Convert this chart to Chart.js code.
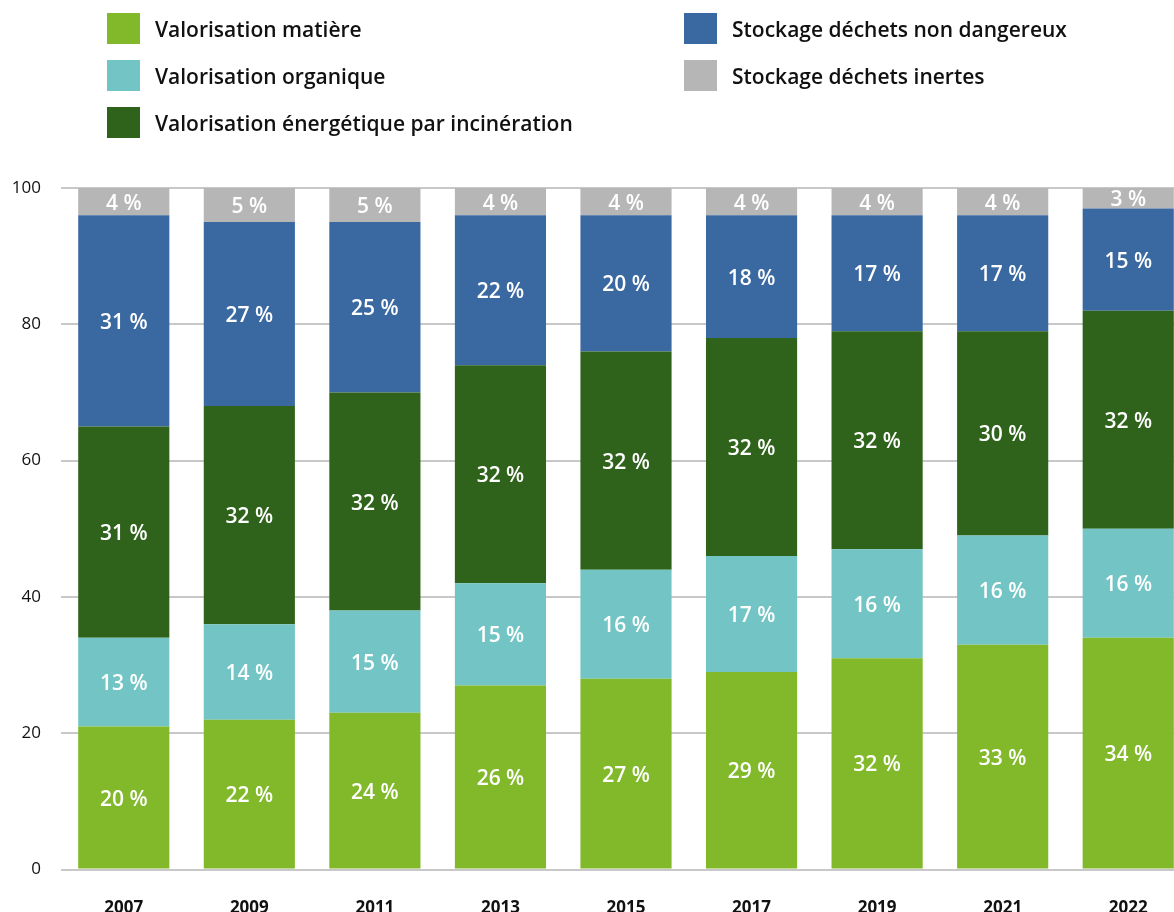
<!DOCTYPE html>
<html>
<head>
<meta charset="utf-8">
<script src="https://cdn.jsdelivr.net/npm/chart.js@4"></script>
<style>
    html, body { margin: 0; padding: 0; background: #fff; overflow: hidden; }
    #wrap { position: relative; width: 1174px; height: 912px; overflow: hidden; }
    #graph { position: absolute; left: 0; top: 0; }
    .leg { position: absolute; display: flex; align-items: center; font-family: "Open Sans", sans-serif;
           font-weight: 600; font-size: 21px; color: #111; white-space: nowrap; }
    .leg span.sq { display: inline-block; width: 33px; height: 31px; margin-right: 15px; }
</style>
</head>
<body>
<div id="wrap">
    <canvas id="graph" width="1191" height="938"></canvas>
    <div id="legende"></div>
</div>
<script>
// annees + valeurs (hauteur des barres) + etiquettes affichees
const annees = ['2007', '2009', '2011', '2013', '2015', '2017', '2019', '2021', '2022'];

const matiere = [21, 22, 23, 27, 28, 29, 31, 33, 34];
const organique = [13, 14, 15, 15, 16, 17, 16, 16, 16];
const energetique = [31, 32, 32, 32, 32, 32, 32, 30, 32];
const nonDangereux = [31, 27, 25, 22, 20, 18, 17, 17, 15];
const inertes = [4, 5, 5, 4, 4, 4, 4, 4, 3];

const matiereTxt = [20, 22, 24, 26, 27, 29, 32, 33, 34];
const organiqueTxt = [13, 14, 15, 15, 16, 17, 16, 16, 16];
const energetiqueTxt = [31, 32, 32, 32, 32, 32, 32, 30, 32];
const nonDangereuxTxt = [31, 27, 25, 22, 20, 18, 17, 17, 15];
const inertesTxt = [4, 5, 5, 4, 4, 4, 4, 4, 3];

const yTicks = [0, 20, 40, 60, 80, 100];

const series = [
    { label: 'Valorisation matière', data: matiere, txt: matiereTxt, color: '#82b92a', col: 0, row: 0 },
    { label: 'Valorisation organique', data: organique, txt: organiqueTxt, color: '#72c5c4', col: 0, row: 1 },
    { label: 'Valorisation énergétique par incinération', data: energetique, txt: energetiqueTxt, color: '#2f631b', col: 0, row: 2 },
    { label: 'Stockage déchets non dangereux', data: nonDangereux, txt: nonDangereuxTxt, color: '#3a68a0', col: 1, row: 0 },
    { label: 'Stockage déchets inertes', data: inertes, txt: inertesTxt, color: '#b6b6b6', col: 1, row: 1 }
];

// legende en html
var legende = document.getElementById('legende');
series.forEach(s => {
    var d = document.createElement('div');
    d.className = 'leg';
    d.style.left = (s.col === 0 ? 107 : 684) + 'px';
    d.style.top = (13 + s.row * 47) + 'px';
    d.innerHTML = '<span class="sq" style="background:' + s.color + '"></span>' + s.label;
    legende.appendChild(d);
});

// etiquettes blanches au milieu des segments
const etiquettes = {
    id: 'etiquettes',
    afterDatasetsDraw(chart) {
        var ctx = chart.ctx;
        ctx.save();
        ctx.fillStyle = '#fff';
        ctx.font = '600 21px "Open Sans", sans-serif';
        ctx.textAlign = 'center';
        ctx.textBaseline = 'middle';
        series.forEach((s, i) => {
            chart.getDatasetMeta(i).data.forEach((bar, j) => {
                ctx.fillText(s.txt[j] + ' %', bar.x, (bar.y + bar.base) / 2 + 2);
            });
        });
        ctx.restore();
    }
};

var ctx = document.getElementById('graph').getContext('2d');
var graph = new Chart(ctx, {
    type: 'bar',
    data: {
        labels: annees,
        datasets: series.map(s => ({
            label: s.label,
            data: s.data,
            backgroundColor: s.color,
            borderWidth: 0,
            barPercentage: 0.726,
            categoryPercentage: 1
        }))
    },
    options: {
        responsive: false,
        animation: false,
        layout: { padding: { top: 188, left: 0, right: 0, bottom: 0 } },
        plugins: {
            legend: { display: false },
            tooltip: { enabled: false }
        },
        scales: {
            x: {
                stacked: true,
                grid: { display: false },
                border: { display: false },
                ticks: {
                    color: '#111',
                    padding: 20,
                    font: { family: '"Open Sans", sans-serif', weight: 'bold', size: 17 }
                }
            },
            y: {
                stacked: true,
                min: 0,
                max: 100,
                afterFit: scale => { scale.width = 61; },
                afterBuildTicks: scale => { scale.ticks = yTicks.map(v => ({ value: v })); },
                grid: { color: '#c8c8c8', lineWidth: 2, drawTicks: false },
                border: { display: false },
                ticks: {
                    color: '#111',
                    padding: 20,
                    font: { family: '"Open Sans", sans-serif', size: 17 }
                }
            }
        }
    },
    plugins: [etiquettes]
});
</script>
</body>
</html>
